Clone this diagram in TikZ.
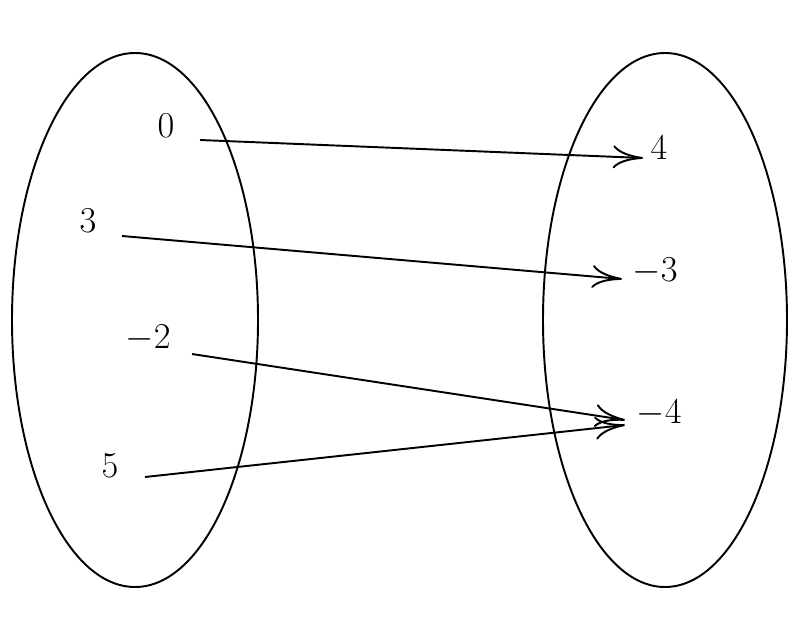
\documentclass[tikz,border=0pt]{standalone}
\usepackage{tikz}
\usetikzlibrary{arrows.meta}
\tikzstyle{setShape} = [line width=1.1pt]
\tikzstyle{mapArrow} = [line width=1.1pt, -{To[length=6mm,width=4.6mm]}]
\tikzstyle{elemText} = [font=\huge, inner sep=0pt]
\begin{document}
\begin{tikzpicture}[x=0.02cm, y=-0.02cm]
  \useasboundingbox (0,0) rectangle (804,632);
  % the two sets
  \draw [setShape] (135,320) ellipse (123 and 267);
  \draw [setShape] (665,320) ellipse (122 and 267);
  % elements of the domain
  \node [elemText] (d0) at (166,126) {$0$};
  \node [elemText] (d3) at (88,221) {$3$};
  \node [elemText] (dm2) at (148,338) {$-2$};
  \node [elemText] (d5) at (110,466) {$5$};
  % elements of the codomain
  \node [elemText] (c4) at (659,148) {$4$};
  \node [elemText] (cm3) at (655,271) {$-3$};
  \node [elemText] (cm4) at (659,413) {$-4$};
  % start and end points of the arrows
  \coordinate (s0) at (200,140);
  \coordinate (s3) at (122,236);
  \coordinate (sm2) at (192,354);
  \coordinate (s5) at (145,477);
  \coordinate (e4) at (643,158);
  \coordinate (em3) at (622,279);
  \coordinate (em4a) at (625,420);
  \coordinate (em4b) at (625,425);
  \draw [mapArrow] (s0) -- (e4);
  \draw [mapArrow] (s3) -- (em3);
  \draw [mapArrow] (sm2) -- (em4a);
  \draw [mapArrow] (s5) -- (em4b);
\end{tikzpicture}
\end{document}
